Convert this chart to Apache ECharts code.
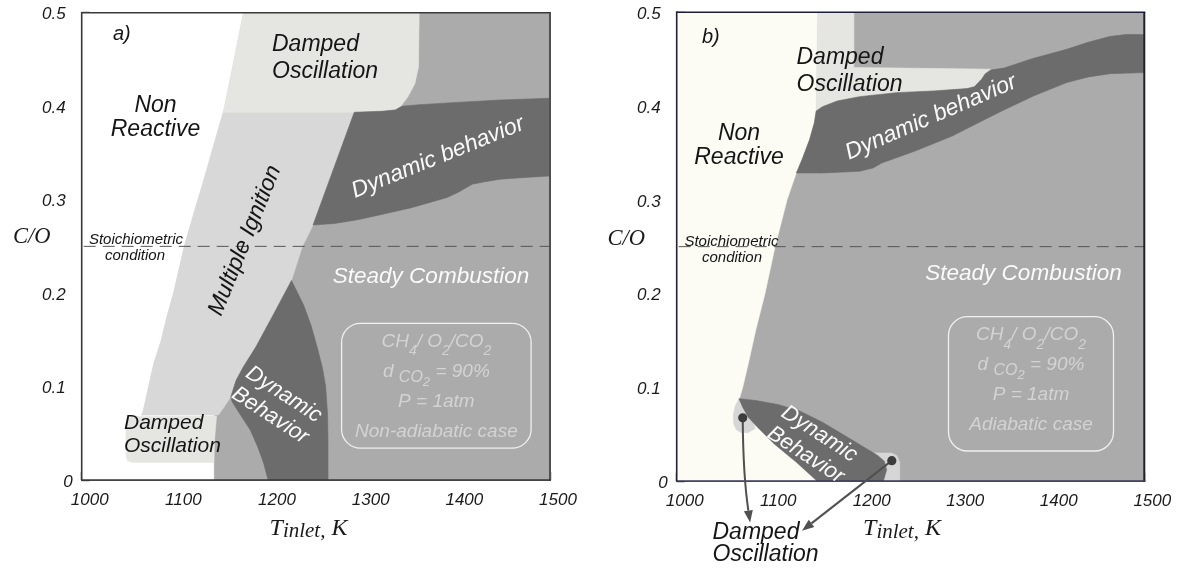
<!DOCTYPE html>
<html><head><meta charset="utf-8">
<script src="https://cdn.jsdelivr.net/npm/echarts@6/dist/echarts.min.js"></script>
<style>html,body{margin:0;padding:0;background:#fff}#c{width:1181px;height:570px}</style>
</head><body><div id="c"></div>
<script>
// ---------- axes ----------
const xRange = [1000, 1500];
const yRange = [0, 0.5];
const xTickLabels = ['1000', '1100', '1200', '1300', '1400', '1500'];
const yTickLabels = ['0', '0.1', '0.2', '0.3', '0.4', '0.5'];
const stoichCO = 0.25;

// ---------- panel a (non-adiabatic) regions [T_inlet K, C/O] ----------
const a_steady = [[1000,0],[1500,0],[1500,0.5],[1000,0.5]];
const a_nonReactive = [[1000,0],[1000,0.5],[1172.5,0.5],[1162,0.447],[1151.5,0.395],[1140,0.355],[1130,0.32],[1119,0.283],[1109.5,0.25],[1098,0.2],[1091,0.175],[1084.7,0.149],[1077,0.125],[1071.4,0.1],[1067.5,0.082],[1064.9,0.0713],[1063.5,0.0695],[1141,0.0695],[1141,0]];
const a_multipleIgnition = [[1152.3,0.398],[1140,0.355],[1130,0.32],[1119,0.283],[1109.5,0.25],[1098,0.2],[1091,0.175],[1084.7,0.149],[1077,0.125],[1071.4,0.1],[1067.5,0.082],[1064.9,0.0713],[1063.5,0.0695],[1146,0.0695],[1152,0.078],[1159.2,0.089],[1164.9,0.1067],[1172.5,0.1209],[1185.9,0.1422],[1205,0.1777],[1224,0.2135],[1235.5,0.2495],[1247,0.2728],[1292.6,0.398]];
const a_dampedTop = [[1151.2,0.3935],[1162,0.447],[1172.5,0.5],[1360.3,0.5],[1359.6,0.442],[1355.7,0.424],[1348.1,0.4097],[1340.5,0.3996],[1334.8,0.396],[1320,0.3945],[1291,0.3935]];
const a_dynamicUpper = [[1291,0.3935],[1320,0.3945],[1334.8,0.396],[1342,0.4],[1360,0.4015],[1400,0.404],[1447,0.4066],[1500,0.4085],[1500,0.3254],[1470,0.3235],[1447,0.3219],[1430,0.319],[1417,0.3165],[1401.5,0.3075],[1390,0.3022],[1370,0.2965],[1352,0.2914],[1320,0.284],[1294.7,0.2785],[1270,0.2745],[1247,0.2728]];
const a_dampedLow = [[1047.3,0.06],[1049,0.0655],[1053,0.068],[1144,0.0685],[1142,0.045],[1141,0.0188],[1054,0.0188],[1049,0.0205],[1047.3,0.026]];
const a_dynamicLower = [[1224,0.2135],[1237,0.187],[1245,0.165],[1252,0.14],[1257,0.12],[1260.5,0.1],[1262.5,0.07],[1263,0.04],[1263,0],[1199,0],[1194.3,0.018],[1187.8,0.0358],[1180,0.0535],[1168.7,0.071],[1160.6,0.0837],[1159.2,0.089],[1164.9,0.1067],[1172.5,0.1209],[1185.9,0.1422],[1205,0.1777]];

// ---------- panel b (adiabatic) regions ----------
const b_steady = [[1000,0],[1500,0],[1500,0.5],[1000,0.5]];
const b_nonReactive = [[1000,0],[1000,0.5],[1150.7,0.5],[1149.9,0.443],[1149.1,0.3946],[1147.1,0.382],[1142,0.364],[1134,0.343],[1128,0.329],[1118,0.3],[1105,0.2493],[1094.4,0.2],[1084.5,0.161],[1076.5,0.125],[1070.6,0.1],[1067,0.0877],[1100,0.05],[1160,0]];
const b_dampedTop = [[1150.7,0.5],[1189.5,0.5],[1189.5,0.441],[1240,0.4405],[1300,0.4398],[1336,0.4393],[1330,0.4345],[1326,0.4286],[1318.4,0.4207],[1310.5,0.4186],[1274.8,0.4161],[1235,0.4143],[1195.5,0.41],[1171.7,0.4054],[1155.8,0.3993],[1149.1,0.3946],[1149.9,0.443]];
const b_dynamicUpper = [[1149.1,0.3946],[1155.8,0.3993],[1171.7,0.4054],[1195.5,0.41],[1235,0.4143],[1274.8,0.4161],[1310.5,0.4186],[1318.4,0.4207],[1326,0.4286],[1330,0.4345],[1336,0.4385],[1350,0.4405],[1380,0.4505],[1417,0.4605],[1440,0.468],[1463,0.4742],[1480,0.4762],[1500,0.4762],[1500,0.4357],[1463,0.4345],[1440,0.431],[1417,0.425],[1382,0.411],[1346,0.394],[1330,0.386],[1294.6,0.368],[1254.9,0.352],[1219.3,0.3393],[1210,0.334],[1195.5,0.3304],[1155.8,0.3286],[1128,0.3286],[1134,0.343],[1142,0.364],[1147.1,0.382]];
const b_dampedTip = [[1067,0.0885],[1062.5,0.08],[1060.5,0.07],[1061,0.061],[1063.5,0.055],[1068,0.052],[1076,0.0515],[1084,0.056],[1078,0.075]];
const b_dampedPatch = [[1203,0],[1203,0.028],[1212,0.0298],[1230,0.0298],[1235.5,0.027],[1238.5,0.02],[1238.5,0]];
const b_dynamicLens = [[1066.6,0.0878],[1084.5,0.0859],[1108.2,0.0816],[1132,0.0745],[1155.8,0.0627],[1179.6,0.0485],[1203.4,0.0342],[1215,0.0272],[1222,0.021],[1224.5,0.012],[1221,0],[1150,0],[1128,0.02],[1104.3,0.0396],[1086.4,0.0574],[1076.5,0.068],[1070.6,0.0788]];
const b_dots = [[1070.6,0.0674],[1230,0.0217]];
const b_arrowTips = [[1078.5,-0.0442],[1134,-0.0531]];

// ---------- colours ----------
const C = {steady:'#ababab', dark:'#6c6c6c', mi:'#d8d8d8', damped:'#e5e6e1', tip:'#d6d6d6', white:'#ffffff', cream:'#fcfcf5'};

const chart = echarts.init(document.getElementById('c'), null, {renderer:'canvas'});
const mctx = document.createElement('canvas').getContext('2d');
const SANS = '"Liberation Sans", Arial, sans-serif';
const SERIF = '"Liberation Serif", "Times New Roman", serif';

function region(gi, pts, fill, z) {
  return {type:'custom', coordinateSystem:'cartesian2d', xAxisIndex:gi, yAxisIndex:gi,
    silent:true, clip:true, z:z, animation:false, data:[[pts[0][0], Math.max(0, pts[0][1])]],
    renderItem:(p, api) => ({type:'polygon', shape:{points: pts.map(q => api.coord(q))},
      style:{fill:fill, stroke:fill, lineWidth:0.6}})};
}
function stoich(gi) {
  return {type:'custom', coordinateSystem:'cartesian2d', xAxisIndex:gi, yAxisIndex:gi, silent:true, z:20,
    data:[[xRange[0], stoichCO]],
    renderItem:(p, api) => { const a = api.coord([xRange[0], stoichCO]), b = api.coord([xRange[1], stoichCO]);
      return {type:'line', shape:{x1:a[0]+2, y1:a[1], x2:b[0], y2:b[1]}, style:{stroke:'#555', lineWidth:1, lineDash:[12,7]}}; }};
}
function frame(gi, topCol, rightCol, bottomCol, leftCol) {
  return {type:'custom', coordinateSystem:'cartesian2d', xAxisIndex:gi, yAxisIndex:gi, silent:true, clip:false, z:30,
    data:[[xRange[0], yRange[0]]],
    renderItem:(p, api) => { const tl = api.coord([xRange[0], yRange[1]]), tr = api.coord([xRange[1], yRange[1]]),
      br = api.coord([xRange[1], yRange[0]]), bl = api.coord([xRange[0], yRange[0]]);
      return {type:'group', children:[
        {type:'line', shape:{x1:tl[0], y1:tl[1], x2:tr[0]+1, y2:tr[1]}, style:{stroke:topCol, lineWidth:1.4}},
        {type:'line', shape:{x1:tr[0], y1:tr[1], x2:br[0], y2:br[1]+1}, style:{stroke:rightCol, lineWidth:2}},
        {type:'line', shape:{x1:bl[0]-0.7, y1:bl[1], x2:br[0]+1, y2:br[1]}, style:{stroke:bottomCol, lineWidth:1.6}},
        {type:'line', shape:{x1:tl[0], y1:tl[1]-0.7, x2:bl[0], y2:bl[1]}, style:{stroke:leftCol, lineWidth:1.6}}
      ]}; }};
}
function arrows(gi) {
  return {type:'custom', coordinateSystem:'cartesian2d', xAxisIndex:gi, yAxisIndex:gi, silent:true, clip:false, z:40,
    data:[[b_dots[0][0], b_dots[0][1]]],
    renderItem:(p, api) => {
      const kids = [];
      b_dots.forEach((d, i) => {
        const s = api.coord(d), e = api.coord(b_arrowTips[i]);
        let cx, cy, dirx, diry;
        if (i === 0) { cx = s[0] + 0.05*(e[0]-s[0]); cy = s[1] + 0.55*(e[1]-s[1]); dirx = e[0]-cx; diry = e[1]-cy; }
        else { cx = (s[0]+e[0])/2; cy = (s[1]+e[1])/2; dirx = e[0]-s[0]; diry = e[1]-s[1]; }
        const L = Math.hypot(dirx, diry), ux = dirx/L, uy = diry/L, hl = 12, hw = 4.5;
        const bx = e[0]-ux*hl, by = e[1]-uy*hl;
        kids.push({type:'bezierCurve', shape:{x1:s[0], y1:s[1], cpx1:cx, cpy1:cy, x2:bx, y2:by}, style:{stroke:'#505050', lineWidth:2, fill:null}});
        kids.push({type:'polygon', shape:{points:[[e[0],e[1]],[bx-uy*hw, by+ux*hw],[bx+uy*hw, by-ux*hw]]}, style:{fill:'#505050'}});
        kids.push({type:'circle', shape:{cx:s[0], cy:s[1], r:4.6}, style:{fill:'#3c3c3c'}});
      });
      return {type:'group', children:kids}; }};
}

// text helpers (baseline positioned, segments allow subscripts)
function segLine(x, base, segs, anchor, color, fam) {
  let w = 0;
  const items = segs.map(sg => { const f = `${sg.st || 'italic'} ${sg.s}px ${sg.fam || fam || SANS}`;
    mctx.font = f; const ww = mctx.measureText(sg.t).width; w += ww; return {sg, f, ww}; });
  let cx = anchor === 'center' ? x - w/2 : x;
  return items.map(o => { const el = {type:'text', x:cx, y: base + (o.sg.dy || 0) - 0.345*o.sg.s, z:60,
    style:{text:o.sg.t, font:o.f, fill:color, textAlign:'left', align:'left', textVerticalAlign:'middle', verticalAlign:'middle'}};
    cx += o.ww; return el; });
}
function txt(x, base, t, size, anchor, color) { return segLine(x, base, [{t:t, s:size}], anchor, color); }
function rotText(x, y, t, size, deg, color, lh) {
  return {type:'text', x:x, y:y, rotation: deg*Math.PI/180, z:60,
    style:{text:t, font:`italic ${size}px ${SANS}`, fill:color, textAlign:'center', align:'center',
      textVerticalAlign:'middle', verticalAlign:'middle', lineHeight: lh || size}};
}
function insetBox(x0, y0, x1, y1, cx, lastLine) {
  const col = '#d3d3d3';
  return [
    {type:'rect', z:55, shape:{x:x0, y:y0, width:x1-x0, height:y1-y0, r:19}, style:{fill:null, stroke:'#f0f0f0', lineWidth:1.3}},
    ...segLine(cx, y0+24.5, [{t:'CH',s:19},{t:'4',s:14,dy:8.5},{t:'/ O',s:19},{t:'2',s:14,dy:8.5},{t:'/CO',s:19},{t:'2',s:14,dy:8.5}], 'center', col),
    ...segLine(cx, y0+54.5, [{t:'d ',s:19},{t:'CO',s:16,dy:5},{t:'2',s:13,dy:9},{t:' = 90%',s:19}], 'center', col),
    ...txt(cx, y0+84.5, 'P = 1atm', 19, 'center', col),
    ...txt(cx, y0+114.5, lastLine, 19, 'center', col)
  ];
}
function tinlet(cx, base) {
  return segLine(cx, base, [{t:'T',s:24,fam:SERIF},{t:'inlet,',s:21,dy:2.5,fam:SERIF},{t:' K',s:24,fam:SERIF}], 'center', '#1a1a1a', SERIF);
}

const BLACK = '#151515', WHITE = '#fafafa';
const graphics = [
  // panel a
  ...txt(113, 41.5, 'a)', 20, 'left', BLACK),
  ...txt(272, 53, 'Damped', 23, 'left', BLACK),
  ...txt(272, 80, 'Oscillation', 23, 'left', BLACK),
  ...txt(155.5, 114, 'Non', 23, 'center', BLACK),
  ...txt(155.5, 137.5, 'Reactive', 23, 'center', BLACK),
  rotText(438, 157.5, 'Dynamic behavior', 23, 22, WHITE),
  rotText(245, 240.5, 'Multiple Ignition', 23, 68, BLACK),
  ...txt(136, 245, 'Stoichiometric', 15, 'center', BLACK),
  ...txt(135, 261, 'condition', 15, 'center', BLACK),
  ...txt(431, 284, 'Steady Combustion', 22.5, 'center', WHITE),
  rotText(277, 405, 'Dynamic\nBehavior', 22, -33, WHITE, 25),
  ...txt(124, 430, 'Damped', 21, 'left', BLACK),
  ...txt(124, 453, 'Oscillation', 21, 'left', BLACK),
  ...insetBox(341.6, 323.3, 531.1, 448.2, 436.4, 'Non-adiabatic case'),
  ...segLine(13, 244.5, [{t:'C/O', s:22.5, fam:SERIF}], 'left', '#1a1a1a', SERIF),
  ...tinlet(308.5, 536.5),
  // panel b
  ...txt(702, 44.5, 'b)', 20, 'left', BLACK),
  ...txt(796.5, 65.5, 'Damped', 23, 'left', BLACK),
  ...txt(796.5, 92.5, 'Oscillation', 23, 'left', BLACK),
  ...txt(739, 142, 'Non', 23, 'center', BLACK),
  ...txt(739, 165.7, 'Reactive', 23, 'center', BLACK),
  rotText(931, 117.5, 'Dynamic behavior', 23, 23.3, WHITE),
  ...txt(731.5, 247.5, 'Stoichiometric', 15, 'center', BLACK),
  ...txt(732, 263, 'condition', 15, 'center', BLACK),
  ...txt(1023.5, 281, 'Steady Combustion', 22.5, 'center', WHITE),
  ...insetBox(948.5, 316.7, 1113.5, 451, 1031, 'Adiabatic case'),
  rotText(812.5, 444.5, 'Dynamic\nBehavior', 22, -33, WHITE, 25),
  ...txt(712.5, 540.5, 'Damped', 23, 'left', BLACK),
  ...txt(712.5, 563, 'Oscillation', 23, 'left', BLACK),
  ...segLine(607.5, 246.5, [{t:'C/O', s:22.5, fam:SERIF}], 'left', '#1a1a1a', SERIF),
  ...tinlet(902, 537)
];

function mkX(gi, col) {
  return {type:'value', gridIndex:gi, min:xRange[0], max:xRange[1], interval:100,
    axisLine:{show:true, onZero:false, lineStyle:{color:col, width:1.6}},
    axisTick:{show:true, inside:true, length:8, lineStyle:{color:col, width:1.4}},
    splitLine:{show:false},
    axisLabel:{show:true, margin:12, padding:[0,0,0,16], color:'#1a1a1a', fontFamily:SANS, fontStyle:'italic', fontSize:17,
      formatter: v => xTickLabels[Math.round((v - xRange[0]) / 100)]}};
}
function mkY(gi, col) {
  return {type:'value', gridIndex:gi, min:yRange[0], max:yRange[1], interval:0.1,
    axisLine:{show:true, onZero:false, lineStyle:{color:col, width:1.6}},
    axisTick:{show:true, inside:true, length:8, lineStyle:{color:col, width:1.4}},
    splitLine:{show:false},
    axisLabel:{show:true, margin:9, color:'#1a1a1a', fontFamily:SANS, fontStyle:'italic', fontSize:17,
      formatter: v => { const i = Math.round(v*10); return i === 0 ? '{z|0}' : '{n|' + yTickLabels[i] + '}'; },
      rich:{n:{padding:[4,7,0,0], color:'#1a1a1a', fontFamily:SANS, fontStyle:'italic', fontSize:17},
            z:{padding:[4,0,0,0], color:'#1a1a1a', fontFamily:SANS, fontStyle:'italic', fontSize:17}}}};
}

const option = {
  animation:false,
  backgroundColor:'#ffffff',
  grid:[
    {left:81.7, top:12.7, width:468.3, height:467.3, containLabel:false, outerBoundsMode:'none'},
    {left:676.7, top:12.3, width:467.6, height:468.7, containLabel:false, outerBoundsMode:'none'}
  ],
  xAxis:[mkX(0,'#383838'), mkX(1,'#3a3a5a')],
  yAxis:[mkY(0,'#383838'), mkY(1,'#222230')],
  series:[
    region(0, a_steady, C.steady, 1),
    region(0, a_nonReactive, C.white, 2),
    region(0, a_multipleIgnition, C.mi, 3),
    region(0, a_dampedTop, C.damped, 4),
    region(0, a_dynamicUpper, C.dark, 5),
    region(0, a_dampedLow, C.damped, 5),
    region(0, a_dynamicLower, C.dark, 6),
    stoich(0),
    frame(0, '#3a3a3a', '#505050', '#383838', '#383838'),
    region(1, b_steady, C.steady, 1),
    region(1, b_nonReactive, C.cream, 2),
    region(1, b_dampedTop, C.damped, 3),
    region(1, b_dynamicUpper, C.dark, 4),
    region(1, b_dampedTip, C.tip, 5),
    region(1, b_dampedPatch, C.tip, 5),
    region(1, b_dynamicLens, C.dark, 6),
    stoich(1),
    frame(1, '#1e1e3c', '#202028', '#3a3a5a', '#222230'),
    arrows(1)
  ],
  graphic:{elements: graphics}
};
chart.setOption(option);
</script></body></html>
